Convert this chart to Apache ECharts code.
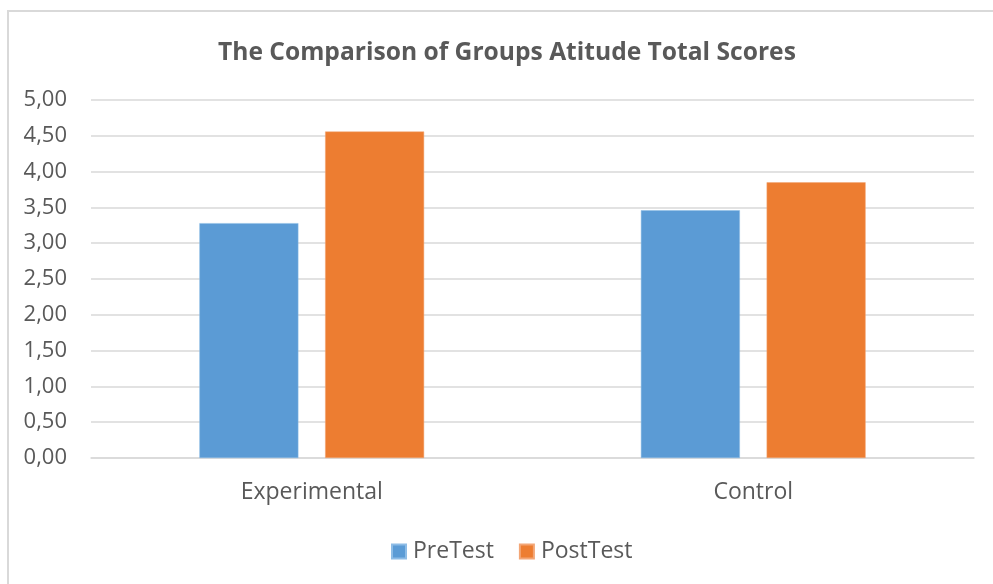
<!DOCTYPE html>
<html>
<head>
	<meta charset="utf-8">
	<title>The Comparison of Groups Atitude Total Scores</title>
	<style>
		* { margin: 0; padding: 0; box-sizing: border-box; }
		body { background: #ffffff; overflow: hidden; }
		#chart { width: 993px; height: 584px; }
	</style>
	<script src="https://cdn.jsdelivr.net/npm/echarts@6/dist/echarts.min.js"></script>
</head>
<body>
<div id="chart"></div>
<script>
	// data
	var categories = ['Experimental', 'Control'];
	var preTest = [3.28, 3.46];
	var postTest = [4.56, 3.85];
	var seriesNames = ['PreTest', 'PostTest'];

	var FONT = 'Open Sans';
	var TEXT = '#595959';

	var chart = echarts.init(document.getElementById('chart'), null, { renderer: 'canvas' });

	chart.setOption({
		animation: false,
		backgroundColor: '#ffffff',
		color: ['#5B9BD5', '#ED7D31'],
		textStyle: { fontFamily: FONT },
		graphic: [{
			type: 'rect',
			silent: true,
			shape: { x: 8, y: 11, width: 1000, height: 600 },
			style: { fill: 'none', stroke: '#d9d9d9', lineWidth: 2 }
		}],
		title: {
			text: 'The Comparison of Groups Atitude Total Scores',
			left: 213,
			top: 35,
			textStyle: { fontFamily: FONT, fontSize: 24.6, fontWeight: 'bold', color: TEXT }
		},
		legend: {
			data: seriesNames,
			top: 535,
			left: 386,
			itemWidth: 14,
			itemHeight: 14,
			itemGap: 25,
			icon: 'rect',
			textStyle: { fontFamily: FONT, fontSize: 23, color: TEXT, padding: [0, 0, 0, 2] }
		},
		grid: { left: 91, right: 19, top: 100, bottom: 126 },
		xAxis: {
			type: 'category',
			data: categories,
			axisLine: { lineStyle: { color: '#d9d9d9', width: 1.5 } },
			axisTick: { show: false },
			axisLabel: { fontFamily: FONT, fontSize: 23, color: TEXT, margin: 23 }
		},
		yAxis: {
			type: 'value',
			min: 0,
			max: 5,
			interval: 0.5,
			axisLine: { show: false },
			axisTick: { show: false },
			splitLine: { lineStyle: { color: '#d9d9d9', width: 1.5 } },
			axisLabel: {
				fontFamily: FONT, fontSize: 22, color: TEXT, margin: 24,
				formatter: function (v) { return v.toFixed(2).replace('.', ','); }
			}
		},
		series: [{
			name: seriesNames[0],
			type: 'bar',
			data: preTest,
			barWidth: 99,
			barGap: '27%',
			itemStyle: { borderColor: '#8dbce6', borderWidth: 0.5 }
		}, {
			name: seriesNames[1],
			type: 'bar',
			data: postTest,
			barWidth: 99,
			itemStyle: { borderColor: '#f3a676', borderWidth: 0.5 }
		}]
	});
</script>
</body>
</html>
